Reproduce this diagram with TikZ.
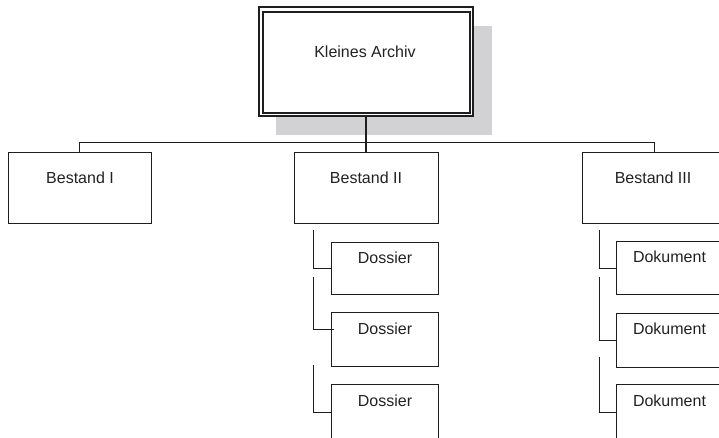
\documentclass[tikz,border=0pt]{standalone}
\usepackage{fontspec}
\setmainfont{Liberation Sans}
\begin{document}
\begin{tikzpicture}[x=1pt,y=-1pt,
  every node/.style={inner sep=0pt,outer sep=0pt},
  box/.style={draw=linecol,line width=1pt,fill=white,rectangle},
  lbl/.style={anchor=base,text=txtcol,font=\fontsize{16}{18}\selectfont},
  conn/.style={draw=linecol,line width=1pt},
]
\definecolor{linecol}{HTML}{1E1E1E}
\definecolor{txtcol}{HTML}{222222}
\definecolor{shadowcol}{HTML}{D2D2D4}
\useasboundingbox (0,0) rectangle (719,437);
\begin{scope}
\clip (0,0) rectangle (719,437);
% shadow of top box
\fill[shadowcol] (276,26) rectangle (492,135);
% top box (double border)
\node[box,line width=1.3pt,minimum width=214,minimum height=109] (top) at (366,61.5) {};
\node[draw=linecol,line width=1.3pt,minimum width=207,minimum height=101] (topin) at (366.5,62.5) {};
\node[lbl] (ttop) at (365,57) {Kleines Archiv};
% level 1
\node[box,minimum width=143,minimum height=71] (b1) at (79.5,187.5) {};
\node[box,minimum width=144,minimum height=71] (b2) at (366,187.5) {};
\node[box,minimum width=144,minimum height=71] (b3) at (654,187.5) {};
\node[lbl] (tb1) at (80,183) {Bestand I};
\node[lbl] (tb2) at (366,183) {Bestand II};
\node[lbl] (tb3) at (653,183) {Bestand III};
% connectors level 1
\draw[conn,line width=1.8pt] (top.south) -- (b2.north);
\draw[conn] (b1.north) -- ++(0,-10) -| (b3.north);
% dossiers
\node[box,minimum width=107,minimum height=52] (d1) at (384.5,268) {};
\node[box,minimum width=107,minimum height=54] (d2) at (384.5,339) {};
\node[box,minimum width=107,minimum height=56] (d3) at (384.5,412) {};
\node[lbl] (td1) at (385,263) {Dossier};
\node[lbl] (td2) at (385,334) {Dossier};
\node[lbl] (td3) at (385,406) {Dossier};
\coordinate (s1) at (313,230);
\coordinate (s2) at (313,277);
\coordinate (e2) at (334,329);
\coordinate (s3) at (313,365);
\draw[conn] (s1) |- (d1.west);
\draw[conn] (s2) |- (e2);
\draw[conn] (s3) |- (d3.west);
% dokumente
\node[box,minimum width=107,minimum height=53] (k1) at (669.5,268) {};
\node[box,minimum width=107,minimum height=54] (k2) at (669.5,340) {};
\node[box,minimum width=107,minimum height=56] (k3) at (669.5,412) {};
\node[lbl] (tk1) at (669.5,262) {Dokument};
\node[lbl] (tk2) at (669.5,334) {Dokument};
\node[lbl] (tk3) at (669.5,406) {Dokument};
\coordinate (u1) at (599,230);
\coordinate (u2) at (599,277);
\coordinate (u3) at (599,357);
\draw[conn] (u1) |- (k1.west);
\draw[conn] (u2) |- (k2.west);
\draw[conn] (u3) |- (k3.west);
\end{scope}
\end{tikzpicture}
\end{document}
